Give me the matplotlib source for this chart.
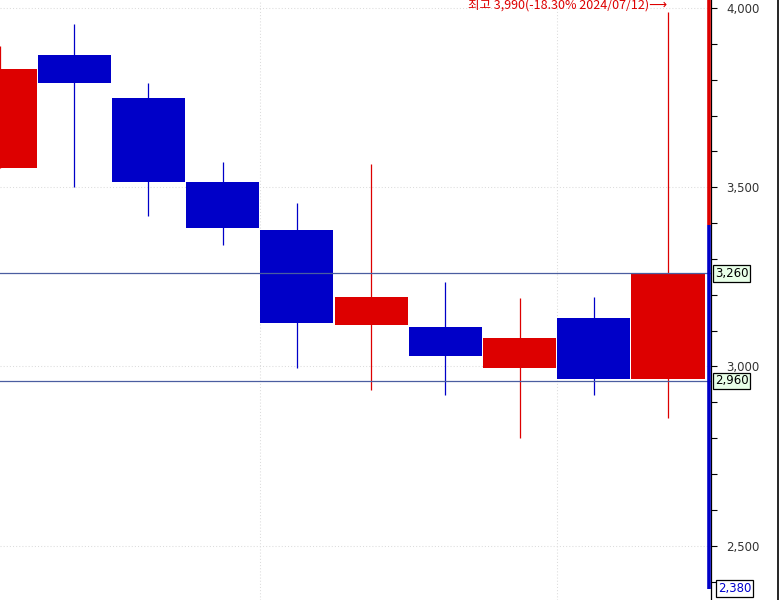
import matplotlib
matplotlib.use("Agg")
import matplotlib.pyplot as plt
import matplotlib.transforms as mtransforms
from matplotlib.ticker import MultipleLocator, FuncFormatter
from matplotlib.lines import Line2D

# daily candles (oldest -> newest), Korean colour convention: red = up, blue = down
opens = [3555, 3870, 3750, 3515, 3380, 3115, 3110, 2995, 3135, 2965]
closes = [3830, 3790, 3515, 3385, 3120, 3195, 3030, 3080, 2965, 3260]
highs = [3895, 3955, 3790, 3570, 3455, 3565, 3235, 3190, 3195, 3990]
lows = [3555, 3500, 3420, 3340, 2995, 2935, 2920, 2800, 2920, 2855]

level_lines = [3260, 2960]
low_mark = 2380
high_note = "최고 3,990(-18.30% 2024/07/12)⟶"
month_breaks = [3.5, 7.5]

UP = "#DD0000"
DOWN = "#0000C8"

fig = plt.figure(figsize=(7.81, 6), dpi=100)
ax = fig.add_axes([0, 0, 711 / 781, 1])

x = list(range(len(opens)))
for i in x:
    c = UP if closes[i] >= opens[i] else DOWN
    ax.vlines(i, lows[i], highs[i], color=c, linewidth=0.9, zorder=2)
    lo = min(opens[i], closes[i])
    ax.bar(i, abs(closes[i] - opens[i]), bottom=lo, width=0.985,
           color=c, edgecolor="none", zorder=3)

ax.set_xlim(0, 711 / 74.22)
ax.set_ylim(2348.5, 4022.3)

# grid
for v in [2500, 3000, 3500, 4000]:
    ax.axhline(v, color="#DCDCDC", linewidth=0.75, linestyle=(0, (1, 2)), zorder=0)
for xb in month_breaks:
    ax.axvline(xb, color="#DCDCDC", linewidth=0.75, linestyle=(0, (1, 2)), zorder=0)

# level lines
for lv in level_lines:
    ax.axhline(lv, color="#4A5EA0", linewidth=0.9, zorder=4)

# right axis
ax.yaxis.tick_right()
ax.yaxis.set_major_locator(MultipleLocator(500))
ax.yaxis.set_minor_locator(MultipleLocator(100))
ax.yaxis.set_major_formatter(FuncFormatter(lambda v, p: f"{v:,.0f}"))
ax.tick_params(axis="y", which="both", direction="out", length=4, width=0.8,
               colors="black", labelcolor="#333333", labelsize=8.5, pad=7)
ax.tick_params(axis="x", bottom=False, labelbottom=False)
for s in ["left", "top", "bottom"]:
    ax.spines[s].set_visible(False)
ax.spines["right"].set_linewidth(0.9)

# colour bar along the axis
tr = mtransforms.blended_transform_factory(ax.transAxes, ax.transData)
bx = 1 - 2 / 711
ax.plot([bx, bx], [4022.3, 3395], color=UP, linewidth=2.6, transform=tr,
        clip_on=False, zorder=5, solid_capstyle="butt")
ax.plot([bx, bx], [3395, low_mark], color=DOWN, linewidth=2.6, transform=tr,
        clip_on=False, zorder=5, solid_capstyle="butt")

# value boxes
for lv in level_lines:
    ax.text(1 + 4 / 711, lv, f"{lv:,}", transform=tr, ha="left", va="center",
            fontsize=8.5, color="black", zorder=6,
            bbox=dict(boxstyle="square,pad=0.15", facecolor="#E8FFE8",
                      edgecolor="black", linewidth=0.9))
ax.text(1 + 7 / 711, low_mark, f"{low_mark:,}", transform=tr, ha="left", va="center",
        fontsize=8.5, color="#0000CC", zorder=6,
        bbox=dict(boxstyle="square,pad=0.15", facecolor="white",
                  edgecolor="black", linewidth=0.9))

# high annotation
ax.text(8.99, 1 - 5 / 600, high_note,
        transform=mtransforms.blended_transform_factory(ax.transData, ax.transAxes),
        ha="right", va="center", fontsize=9, color=UP,
        family=["Noto Sans CJK KR", "DejaVu Sans"])

# right frame line
fig.add_artist(Line2D([777.5 / 781, 777.5 / 781], [0, 1], color="black", linewidth=1.2))

fig.savefig("out.png", dpi=100)
